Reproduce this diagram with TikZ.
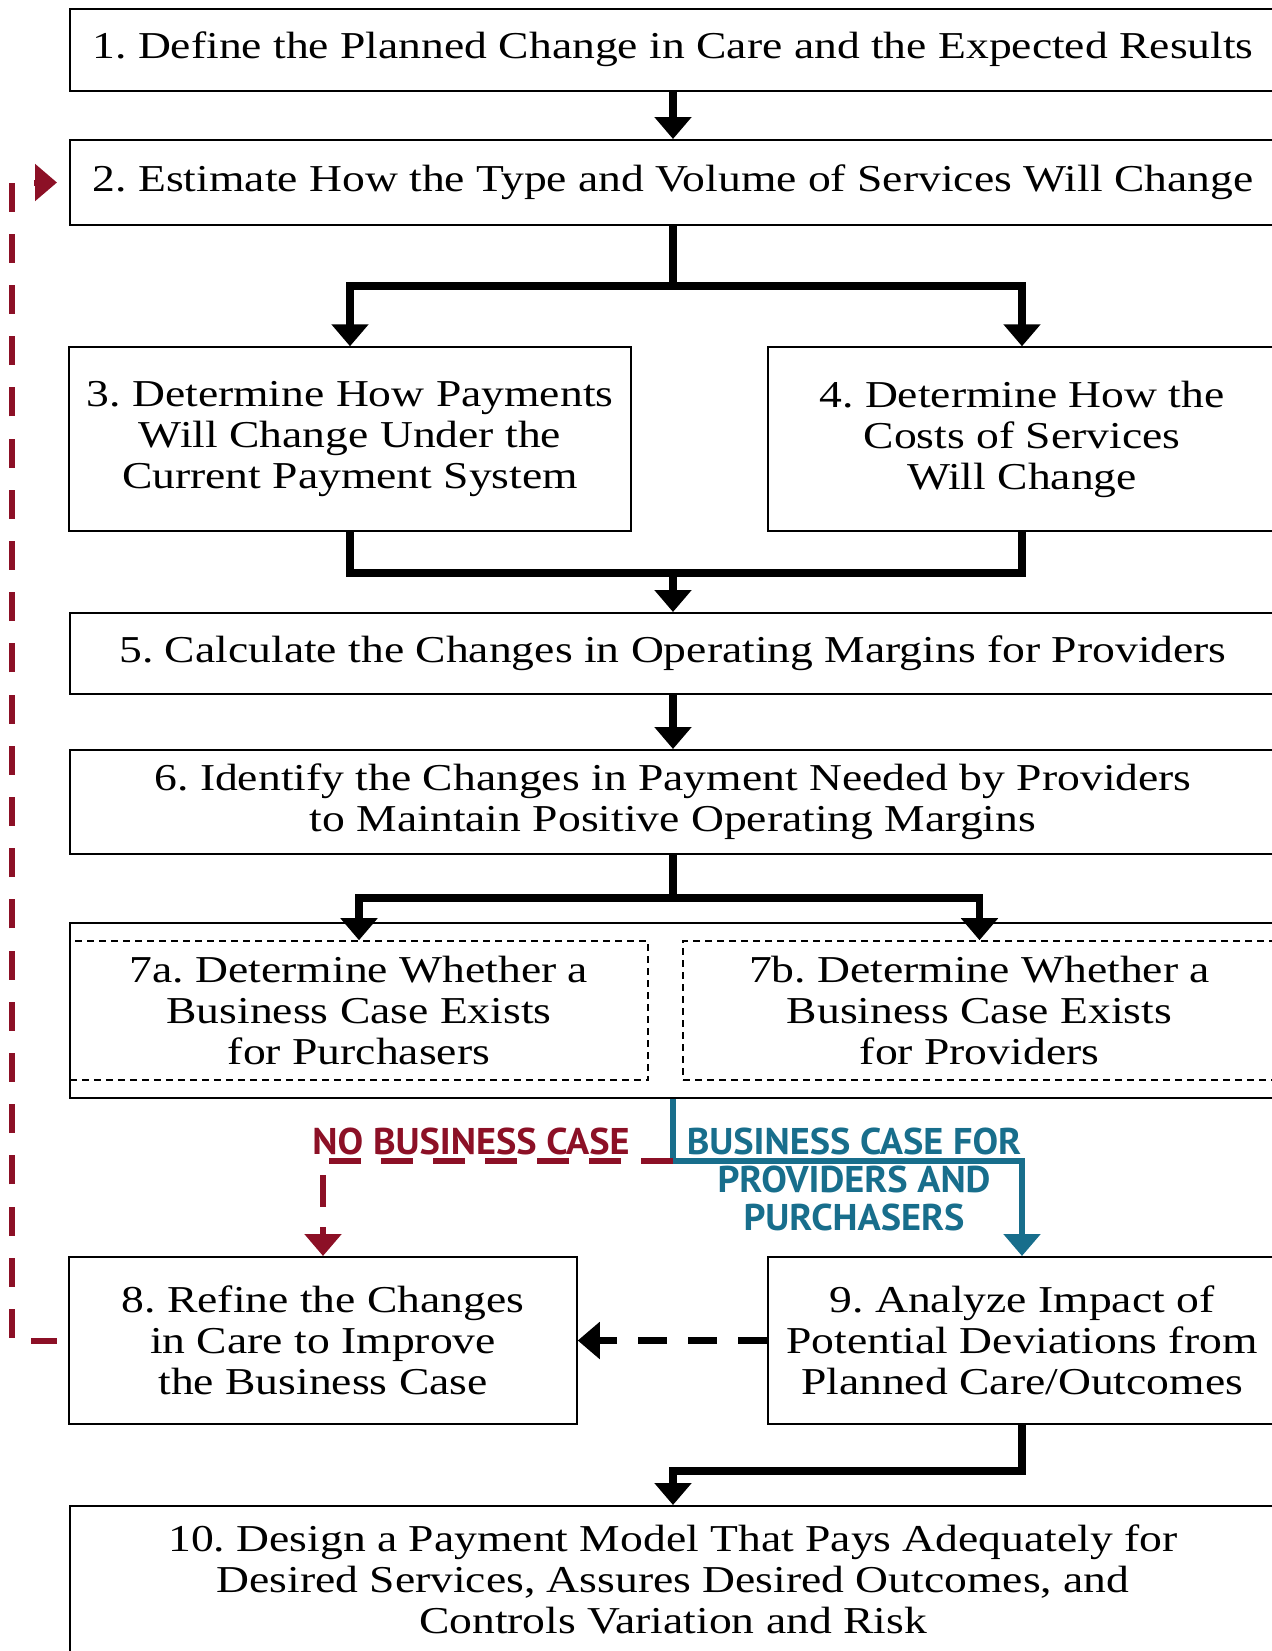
\documentclass[tikz,border=0pt]{standalone}
\usepackage{fontspec}
\setmainfont[FakeStretch=1.2]{Liberation Serif}
\newfontfamily\casefont[FakeStretch=1.03]{PT Sans}
\usetikzlibrary{arrows.meta}
\definecolor{nocase}{RGB}{140,16,38}
\definecolor{yescase}{RGB}{24,110,140}
\newcommand{\boxsize}{\fontsize{19}{20.5}\selectfont}
\frenchspacing

\begin{document}
\begin{tikzpicture} [x=1pt, y=1pt, >={Triangle[length=11pt,width=18pt]},
  block/.style={rectangle, draw, line width=1pt, inner sep=0pt, minimum width=603.5pt, align=center, font=\boxsize},
  subblock/.style={rectangle, draw, line width=0.8pt, dash pattern=on 3.5pt off 2.5pt, inner sep=0pt, minimum height=69.5pt, align=center, font=\boxsize},
  flow/.style={line width=3.75pt},
  nopath/.style={draw=nocase, line width=3pt, dash pattern=on 16pt off 10pt},
  yespath/.style={draw=yescase, line width=3pt},
  casetext/.style={font=\casefont\bfseries\fontsize{18.6}{19}\selectfont, inner sep=0pt, align=center}]
\useasboundingbox (0,0) rectangle (635.5,-825.5);
  %% Steps of the business case
  \node [block, minimum height=41pt] (define) at (336.5,-24.75) {1. Define the Planned Change in Care and the Expected Results};
  \node [block, below of=define, minimum height=42.5pt, node distance=66.5pt] (estimate) {2. Estimate How the Type and Volume of Services Will Change};
  \node [block, below of=estimate, xshift=-161.5pt, minimum width=280.75pt, minimum height=91.75pt, node distance=128.25pt] (payments) {3. Determine How Payments\\Will Change Under the\\Current Payment System};
  \node [block, right of=payments, minimum width=254pt, minimum height=91.75pt, node distance=336pt] (costs) {4. Determine How the\\Costs of Services\\Will Change};
  \node [block, below of=estimate, minimum height=40.5pt, node distance=235.5pt] (margins) {5. Calculate the Changes in Operating Margins for Providers};
  \node [block, below of=margins, minimum height=52pt, node distance=74.25pt] (needed) {6. Identify the Changes in Payment Needed by Providers\\to Maintain Positive Operating Margins};
  \node [block, below of=needed, minimum height=87.5pt, node distance=104.25pt] (cases) {};
  \node [subblock, left of=cases, minimum width=289.25pt, node distance=157pt] (purchasers) {7a. Determine Whether a\\Business Case Exists\\for Purchasers};
  \node [subblock, right of=cases, minimum width=296.5pt, node distance=153.25pt] (providers) {7b. Determine Whether a\\Business Case Exists\\for Providers};
  \node [block, below of=cases, xshift=-175pt, minimum width=253.75pt, minimum height=83.5pt, node distance=165pt] (refine) {8. Refine the Changes\\in Care to Improve\\the Business Case};
  \node [block, right of=refine, minimum width=254pt, minimum height=83.5pt, node distance=349.5pt] (analyze) {9. Analyze Impact of\\Potential Deviations from\\Planned Care/Outcomes};
  \node [block, below of=cases, minimum height=73pt, node distance=284.25pt] (design) {10. Design a Payment Model That Pays Adequately for\\Desired Services, Assures Desired Outcomes, and\\Controls Variation and Risk};
  % Outcome labels
  \node [casetext, text=nocase, anchor=north east] at ([xshift=-21.5pt, yshift=-14.5pt]cases.south) (nolabel) {NO BUSINESS CASE};
  \node [casetext, text=yescase, anchor=north] at ([xshift=90.5pt, yshift=-14.5pt]cases.south) (yeslabel) {BUSINESS CASE FOR\\PROVIDERS AND\\PURCHASERS};
  % Draw edges
  \draw [flow, ->] (define) -- (estimate);
  \draw [flow, ->] (estimate.south) -- ++(0,-30) -| (payments.north);
  \draw [flow, ->] (estimate.south) -- ++(0,-30) -| (costs.north);
  \draw [flow] (payments.south) -- ++(0,-20.5) -| (costs.south);
  \draw [flow, ->] (margins.north) ++(0,20.5) -- (margins.north);
  \draw [flow, ->] (margins) -- (needed);
  \draw [flow, ->] (needed.south) -- ++(0,-21.5) -| (purchasers.north);
  \draw [flow, ->] (needed.south) -- ++(0,-21.5) -| (providers.north);
  \draw [yespath, ->] (cases.south) -- ++(0,-31) -| (analyze.north);
  \draw [nopath, ->] ([yshift=-31pt]cases.south) -| (refine.north);
  \draw [flow, dash pattern=on 14.5pt off 10.5pt, ->] (analyze) -- (refine);
  \draw [flow, ->] (analyze.south) -- ++(0,-23) -| (design.north);
  \draw [nopath, dash pattern=on 14.5pt off 11.1pt, dash phase=1.8pt, shorten <=5.75pt, shorten >=5.75pt, ->] (refine.west) -- ++(-28.25,0) |- (estimate.west);
\end{tikzpicture}
\end{document}
